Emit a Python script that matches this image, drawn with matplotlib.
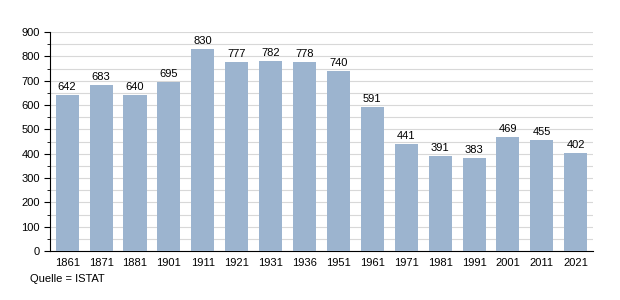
import matplotlib.pyplot as plt
import numpy as np
from matplotlib.ticker import MultipleLocator

# Daten
jahre = ['1861', '1871', '1881', '1901', '1911', '1921', '1931', '1936',
         '1951', '1961', '1971', '1981', '1991', '2001', '2011', '2021']
einwohner = [642, 683, 640, 695, 830, 777, 782, 778,
             740, 591, 441, 391, 383, 469, 455, 402]

plt.rcParams['font.family'] = ['Liberation Sans', 'DejaVu Sans']

fig = plt.figure(figsize=(6.2, 3.0), dpi=100)
ax = fig.add_axes([0.081, 0.163, 0.875, 0.73])

x = np.arange(len(jahre))
ax.bar(x, einwohner, width=0.68, color='#9cb4cf', zorder=3)
for xi, v in zip(x, einwohner):
    ax.text(xi, v + 12, str(v), ha='center', va='bottom', fontsize=8, zorder=4)

ax.set_xlim(-0.5, len(jahre) - 0.5)
ax.set_ylim(0, 900)
ax.set_xticks(x)
ax.set_xticklabels(jahre, fontsize=8)
ax.yaxis.set_major_locator(MultipleLocator(100))
ax.yaxis.set_minor_locator(MultipleLocator(50))
ax.tick_params(axis='y', labelsize=8, length=4, color='black')
ax.tick_params(axis='y', which='minor', length=2)
ax.tick_params(axis='x', length=0, pad=5)

ax.grid(axis='y', which='both', color='#d8d8d8', linewidth=0.8, zorder=0)
for s in ['top', 'right']:
    ax.spines[s].set_visible(False)
ax.spines['left'].set_color('black')
ax.spines['bottom'].set_color('black')

fig.text(0.048, 0.07, 'Quelle = ISTAT', fontsize=8, ha='left', va='center')

fig.savefig('out.png', dpi=100)
